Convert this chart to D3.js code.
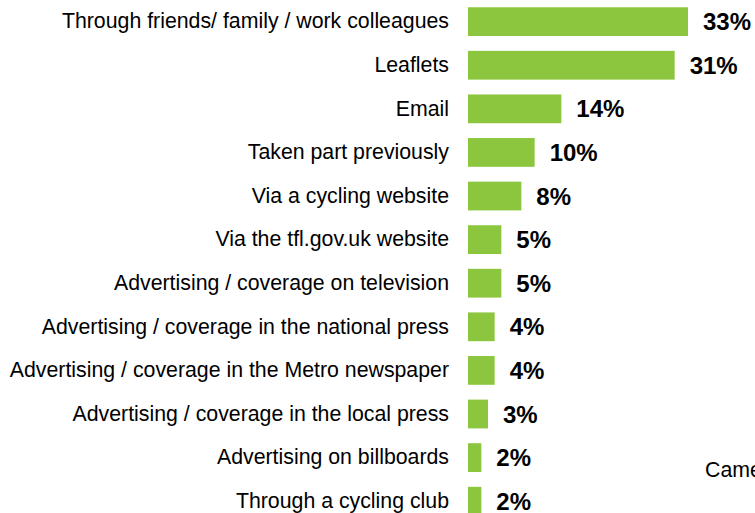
<!DOCTYPE html>
<html>
<head>
<meta charset="utf-8">
<script src="https://cdn.jsdelivr.net/npm/d3@7"></script>
<style>
  html, body { margin: 0; padding: 0; background: #fff; overflow: hidden; }
  svg { display: block; font-family: "Liberation Sans", Arial, sans-serif; }
</style>
</head>
<body>
<svg id="chart" width="755" height="513"></svg>
<script>
// How participants heard about the event (% of respondents)
const categories = [
  "Through friends/ family / work colleagues",
  "Leaflets",
  "Email",
  "Taken part previously",
  "Via a cycling website",
  "Via the tfl.gov.uk website",
  "Advertising / coverage on television",
  "Advertising / coverage in the national press",
  "Advertising / coverage in the Metro newspaper",
  "Advertising / coverage in the local press",
  "Advertising on billboards",
  "Through a cycling club"
];
const values = [33, 31, 14, 10, 8, 5, 5, 4, 4, 3, 2, 2];
const valueLabels = ["33%", "31%", "14%", "10%", "8%", "5%", "5%", "4%", "4%", "3%", "2%", "2%"];
const sideNote = "Came";

const data = categories.map((c, i) => ({ category: c, value: values[i], label: valueLabels[i] }));

const svg = d3.select("#chart");
const left = 468;

const x = d3.scaleLinear().domain([0, 33]).range([left, 688]);
const y = d3.scaleBand()
  .domain(categories)
  .range([-0.15, 523])
  .paddingInner(0.34)
  .paddingOuter(0.17);

// Category labels via a left axis with hidden line and ticks
const yAxis = d3.axisLeft(y).tickSize(0).tickPadding(19);
const gAxis = svg.append("g")
  .attr("transform", `translate(${left},0)`)
  .call(yAxis);
gAxis.select(".domain").remove();
gAxis.selectAll("text")
  .attr("fill", "#000")
  .style("font-size", "21.3px")
  .style("font-family", "'Liberation Sans', Arial, sans-serif");

// Bars
svg.append("g").selectAll("rect")
  .data(data)
  .join("rect")
  .attr("x", x(0))
  .attr("y", d => y(d.category))
  .attr("width", d => x(d.value) - x(0))
  .attr("height", y.bandwidth())
  .attr("fill", "#8cc63f");

// Value labels
svg.append("g").selectAll("text")
  .data(data)
  .join("text")
  .attr("x", d => x(d.value) + 15)
  .attr("y", d => y(d.category) + y.bandwidth() / 2)
  .attr("dy", "0.36em")
  .attr("fill", "#000")
  .style("font-size", "24px")
  .style("font-weight", "bold")
  .text(d => d.label);

// Side annotation, partly outside the visible area
svg.append("text")
  .attr("x", 705)
  .attr("y", 476.5)
  .attr("fill", "#000")
  .style("font-size", "21.3px")
  .text(sideNote);
</script>
</body>
</html>
